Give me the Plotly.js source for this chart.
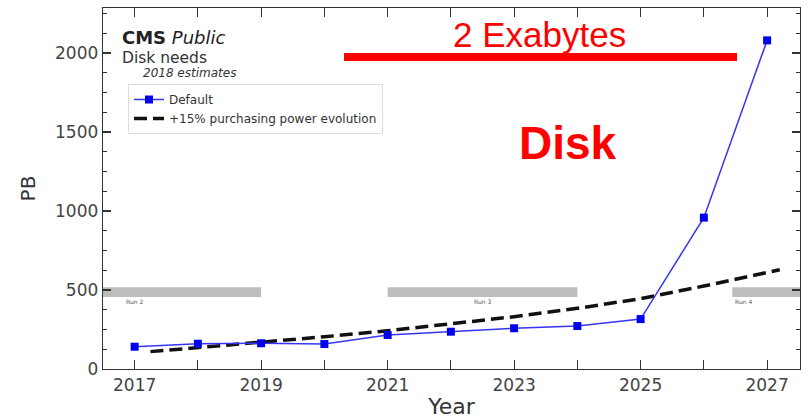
<!DOCTYPE html>
<html>
<head>
<meta charset="utf-8">
<script src="https://cdn.plot.ly/plotly-3.0.1.min.js"></script>
<style>
  html, body { margin: 0; padding: 0; background: #ffffff; }
  #chart { width: 811px; height: 420px; }
</style>
</head>
<body>
<div id="chart"></div>
<script>
// CMS disk needs (PB), 2018 estimates
const years = [2017, 2018, 2019, 2020, 2021, 2022, 2023, 2024, 2025, 2026, 2027];
const defaultPB = [141, 160, 163, 158, 215, 236, 258, 272, 316, 958, 2080];

// +15% purchasing power evolution curve
const flatYears = [2017.25, 2018, 2019, 2020, 2021, 2022, 2023, 2024, 2025, 2026, 2027, 2027.2];
const flatPB = [110, 135, 167, 204, 242, 285, 331, 384, 445, 525, 610, 628];

// LHC run periods (start year, end year, label, label year)
const runStart = [2015.5, 2021.0, 2026.45];
const runEnd = [2019.0, 2024.0, 2028.5];
const runLabel = ['Run 2', 'Run 3', 'Run 4'];
const runLabelX = [2017.0, 2022.5, 2026.62];
const runBand = [455, 518];

const exabyteText = '2 Exabytes';
const diskText = 'Disk';

// plot box in pixels, used to place the overlay text
const W = 811, H = 420;
const M = { l: 103, r: 11, t: 8, b: 51 };
const pw = W - M.l - M.r, ph = H - M.t - M.b;
const px = x => (x - M.l) / pw;
const py = y => (H - M.b - y) / ph;

const FONT = 'DejaVu Sans, sans-serif';
const ARIAL = 'Liberation Sans, Arial, sans-serif';

const traces = [
  {
    x: flatYears, y: flatPB, type: 'scatter', mode: 'lines',
    name: '+15% purchasing power evolution',
    line: { color: '#111111', width: 3.5, dash: '13px,6px' },
    legendrank: 2, hoverinfo: 'skip'
  },
  {
    x: years, y: defaultPB, type: 'scatter', mode: 'lines+markers',
    name: 'Default',
    line: { color: '#3535f0', width: 1.5 },
    marker: { color: '#0000ee', symbol: 'square', size: 8 },
    legendrank: 1
  }
];

const shapes = runStart.map((s, i) => ({
  type: 'rect', xref: 'x', yref: 'y', layer: 'below',
  x0: s, x1: runEnd[i], y0: runBand[0], y1: runBand[1],
  fillcolor: '#bdbdbd', line: { width: 0 }
}));
shapes.push({
  type: 'line', xref: 'paper', yref: 'paper',
  x0: px(344), x1: px(737), y0: py(57), y1: py(57),
  line: { color: '#ff0000', width: 8 }
});

const annotations = runLabel.map((t, i) => ({
  x: runLabelX[i], y: 430, xref: 'x', yref: 'y', text: t, showarrow: false,
  font: { family: FONT, size: 6, color: '#555555' }
}));
annotations.push(
  { xref: 'paper', yref: 'paper', x: px(120), y: py(37), xanchor: 'left', yanchor: 'middle',
    text: '<b>CMS</b> <i>Public</i>', showarrow: false,
    font: { family: FONT, size: 18, color: '#222222' } },
  { xref: 'paper', yref: 'paper', x: px(120), y: py(58), xanchor: 'left', yanchor: 'middle',
    text: 'Disk needs', showarrow: false,
    font: { family: FONT, size: 15.5, color: '#333333' } },
  { xref: 'paper', yref: 'paper', x: px(141), y: py(73), xanchor: 'left', yanchor: 'middle',
    text: '<i>2018 estimates</i>', showarrow: false,
    font: { family: FONT, size: 12, color: '#333333' } },
  { xref: 'paper', yref: 'paper', x: px(539), y: py(35), xanchor: 'center', yanchor: 'middle',
    text: exabyteText, showarrow: false,
    font: { family: ARIAL, size: 35, color: '#ff0000' } },
  { xref: 'paper', yref: 'paper', x: px(568), y: py(143), xanchor: 'center', yanchor: 'middle',
    text: '<b>' + diskText + '</b>', showarrow: false,
    font: { family: ARIAL, size: 46, color: '#ff0000' } }
);

const axisCommon = {
  showline: true, linecolor: '#333333', linewidth: 1.3, mirror: 'allticks',
  ticks: 'inside', tickcolor: '#333333', tickwidth: 1.2,
  showgrid: false, zeroline: false,
  tickfont: { family: FONT, size: 17, color: '#444444' }
};

const layout = {
  width: W, height: H,
  margin: M,
  paper_bgcolor: '#ffffff', plot_bgcolor: '#ffffff',
  showlegend: true,
  legend: {
    x: px(128), y: py(84), xanchor: 'left', yanchor: 'top',
    bgcolor: '#ffffff', bordercolor: '#dddddd', borderwidth: 1,
    font: { family: FONT, size: 12, color: '#333333' },
    itemwidth: 30, tracegroupgap: 0
  },
  xaxis: Object.assign({}, axisCommon, {
    range: [2016.5, 2027.52], tick0: 2017, dtick: 2, ticklen: 9,
    minor: { dtick: 1, tick0: 2017, ticks: 'inside', ticklen: 9, tickcolor: '#333333', tickwidth: 1.2 },
    title: { text: 'Year', font: { family: FONT, size: 22, color: '#333333' }, standoff: 5 }
  }),
  yaxis: Object.assign({}, axisCommon, {
    range: [0, 2285], tick0: 0, dtick: 500, ticklen: 8,
    minor: { dtick: 125, ticks: 'inside', ticklen: 4, tickcolor: '#333333', tickwidth: 1 },
    title: { text: 'PB', font: { family: FONT, size: 20, color: '#333333' }, standoff: 14 }
  }),
  shapes: shapes,
  annotations: annotations
};

Plotly.newPlot('chart', traces, layout, { displayModeBar: false, staticPlot: true });
</script>
</body>
</html>
